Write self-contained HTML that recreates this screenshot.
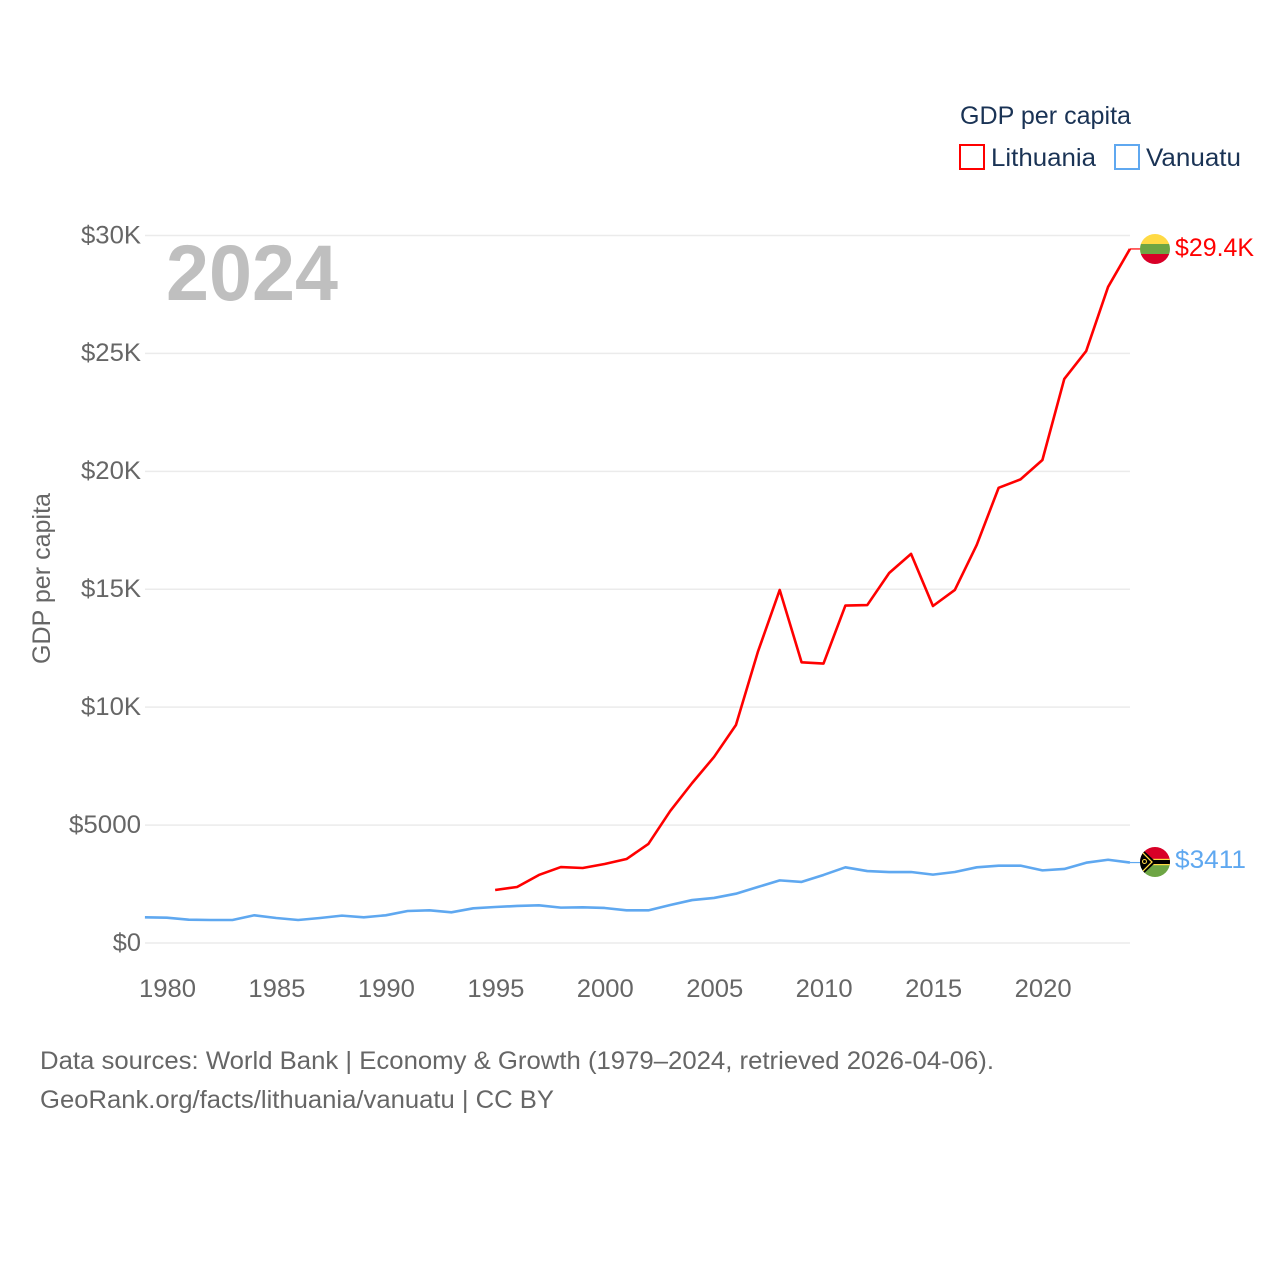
<!DOCTYPE html>
<html>
<head>
<meta charset="utf-8">
<title>GDP per capita: Lithuania and Vanuatu</title>
<style>
html,body{margin:0;padding:0;background:#fff;}
svg{display:block;font-family:"Liberation Sans",sans-serif;}
</style>
</head>
<body>
<svg id="chart" xmlns="http://www.w3.org/2000/svg" width="1280" height="1280" viewBox="0 0 1280 1280">
  <defs>
    <clipPath id="flag-clip-lt"><circle cx="1155" cy="249" r="15"/></clipPath>
    <clipPath id="flag-clip-vu"><circle cx="1155" cy="862" r="15"/></clipPath>
  </defs>
  <rect x="0" y="0" width="1280" height="1280" fill="#ffffff"/>
  <g id="grid"></g>
  <text x="166" y="300" font-size="79" font-weight="700" fill="#bfbfbf" textLength="172" lengthAdjust="spacingAndGlyphs">2024</text>
  <g id="y-ticks"></g>
  <g id="x-ticks"></g>
  <text transform="translate(50,664) rotate(-90)" font-size="25" fill="#666666" textLength="171" lengthAdjust="spacingAndGlyphs">GDP per capita</text>
  <g id="series"></g>

  <g clip-path="url(#flag-clip-lt)">
    <rect x="1140" y="234" width="30" height="10" fill="#ffda44"/>
    <rect x="1140" y="244" width="30" height="10.500" fill="#6da544"/>
    <rect x="1140" y="254" width="30" height="11" fill="#d80027"/>
  </g>
  <g clip-path="url(#flag-clip-vu)">
    <rect x="1140" y="847" width="30" height="15" fill="#d80027"/>
    <rect x="1140" y="862" width="30" height="15" fill="#6da544"/>
    <rect x="1150" y="859.500" width="20" height="5" fill="#000000"/>
    <rect x="1150" y="858.800" width="20" height="1.200" fill="#ffda44"/>
    <rect x="1150" y="864" width="20" height="1.200" fill="#ffda44"/>
    <polygon points="1140,847 1156,862 1140,877" fill="#000000"/>
    <polyline points="1141,851 1152,862 1141,873" fill="none" stroke="#ffda44" stroke-width="1.300"/>
    <circle cx="1144.500" cy="861.500" r="2" fill="none" stroke="#ffda44" stroke-width="1"/>
  </g>

  <g id="end-labels"></g>

  <g>
    <text x="960" y="124" font-size="25" fill="#1a3355" textLength="171" lengthAdjust="spacingAndGlyphs">GDP per capita</text>
    <g>
      <rect x="960" y="145" width="24" height="24" fill="none" stroke="#ff0000" stroke-width="2"/>
      <text x="991" y="166" font-size="25" fill="#1a3355" textLength="105" lengthAdjust="spacingAndGlyphs">Lithuania</text>
    </g>
    <g>
      <rect x="1115" y="145" width="24" height="24" fill="none" stroke="#5fa8f0" stroke-width="2"/>
      <text x="1146" y="166" font-size="25" fill="#1a3355" textLength="95" lengthAdjust="spacingAndGlyphs">Vanuatu</text>
    </g>
  </g>

  <text x="40" y="1069" font-size="25" fill="#666666" textLength="954" lengthAdjust="spacingAndGlyphs">Data sources: World Bank | Economy &amp; Growth (1979–2024, retrieved 2026-04-06).</text>
  <text x="40" y="1108" font-size="25" fill="#666666" textLength="514" lengthAdjust="spacingAndGlyphs">GeoRank.org/facts/lithuania/vanuatu | CC BY</text>
</svg>
<script>
const years = [1979,1980,1981,1982,1983,1984,1985,1986,1987,1988,1989,1990,1991,1992,1993,1994,1995,1996,1997,1998,1999,2000,2001,2002,2003,2004,2005,2006,2007,2008,2009,2010,2011,2012,2013,2014,2015,2016,2017,2018,2019,2020,2021,2022,2023,2024];
const lithuaniaValues = [null,null,null,null,null,null,null,null,null,null,null,null,null,null,null,null,2248,2375,2885,3220,3180,3350,3560,4200,5600,6785,7890,9245,12340,14970,11900,11850,14310,14330,15690,16500,14290,14970,16880,19300,19660,20480,23920,25100,27820,29430];
const vanuatuValues = [1088,1075,990,975,975,1175,1060,975,1060,1160,1090,1175,1357,1385,1300,1470,1527,1570,1600,1500,1512,1485,1385,1385,1610,1820,1910,2090,2375,2655,2590,2885,3210,3050,3010,3010,2900,3010,3210,3280,3280,3080,3140,3405,3530,3411];
const yTickValues = [0,5000,10000,15000,20000,25000,30000];
const yTickLabels = ["$0","$5000","$10K","$15K","$20K","$25K","$30K"];
const xTickYears = [1980,1985,1990,1995,2000,2005,2010,2015,2020];
const endLabels = ["$29.4K","$3411"];

const svgNS = "http://www.w3.org/2000/svg";
function xScale(year){ return 166.8 + (year - 1980) * 21.89; }
function yScale(value){ return 943 - value * 0.023583; }

const gridGroup = document.getElementById("grid");
const yTickGroup = document.getElementById("y-ticks");
yTickValues.forEach(function(v, i){
  const line = document.createElementNS(svgNS, "line");
  line.setAttribute("x1", 145);
  line.setAttribute("x2", 1130);
  line.setAttribute("y1", yScale(v));
  line.setAttribute("y2", yScale(v));
  line.setAttribute("stroke", "#ebebeb");
  line.setAttribute("stroke-width", 1.5);
  
  
  gridGroup.appendChild(line);
  const label = document.createElementNS(svgNS, "text");
  label.setAttribute("x", 141);
  label.setAttribute("y", yScale(v) + 7.800);
  label.setAttribute("text-anchor", "end");
  label.setAttribute("font-size", 25);
  label.setAttribute("fill", "#666666");
  label.setAttribute("textLength", yTickLabels[i].length * 14.6 + (yTickLabels[i].indexOf("K") >= 0 ? 1.6 : -1));
  label.setAttribute("lengthAdjust", "spacingAndGlyphs");
  label.textContent = yTickLabels[i];
  
  
  yTickGroup.appendChild(label);
});

const xTickGroup = document.getElementById("x-ticks");
xTickYears.forEach(function(y){
  const label = document.createElementNS(svgNS, "text");
  label.setAttribute("x", xScale(y) + 0.7);
  label.setAttribute("y", 997);
  label.setAttribute("text-anchor", "middle");
  label.setAttribute("font-size", 25);
  label.setAttribute("fill", "#666666");
  label.setAttribute("textLength", 57);
  label.setAttribute("lengthAdjust", "spacingAndGlyphs");
  label.textContent = String(y);
  
  
  xTickGroup.appendChild(label);
});

function buildPoints(values){
  const pts = [];
  values.forEach(function(v, i){
    if (v !== null) pts.push(xScale(years[i]).toFixed(2) + "," + yScale(v).toFixed(2));
  });
  return pts.join(" ");
}

const seriesGroup = document.getElementById("series");

const lineLithuania = document.createElementNS(svgNS, "polyline");
lineLithuania.setAttribute("points", buildPoints(lithuaniaValues));
lineLithuania.setAttribute("fill", "none");
lineLithuania.setAttribute("stroke", "#ff0000");
lineLithuania.setAttribute("stroke-width", 2.600);
lineLithuania.setAttribute("stroke-linejoin", "round");


seriesGroup.appendChild(lineLithuania);

const lineVanuatu = document.createElementNS(svgNS, "polyline");
lineVanuatu.setAttribute("points", buildPoints(vanuatuValues));
lineVanuatu.setAttribute("fill", "none");
lineVanuatu.setAttribute("stroke", "#5fa8f0");
lineVanuatu.setAttribute("stroke-width", 2.600);
lineVanuatu.setAttribute("stroke-linejoin", "round");


seriesGroup.appendChild(lineVanuatu);

const lastLithuania = lithuaniaValues[lithuaniaValues.length - 1];
const lastVanuatu = vanuatuValues[vanuatuValues.length - 1];

const connectorLithuania = document.createElementNS(svgNS, "line");
connectorLithuania.setAttribute("x1", xScale(2024));
connectorLithuania.setAttribute("x2", 1141);
connectorLithuania.setAttribute("y1", yScale(lastLithuania));
connectorLithuania.setAttribute("y2", yScale(lastLithuania));
connectorLithuania.setAttribute("stroke", "#ff0000");
connectorLithuania.setAttribute("stroke-width", 1.200);


seriesGroup.appendChild(connectorLithuania);

const connectorVanuatu = document.createElementNS(svgNS, "line");
connectorVanuatu.setAttribute("x1", xScale(2024));
connectorVanuatu.setAttribute("x2", 1141);
connectorVanuatu.setAttribute("y1", yScale(lastVanuatu));
connectorVanuatu.setAttribute("y2", yScale(lastVanuatu));
connectorVanuatu.setAttribute("stroke", "#5fa8f0");
connectorVanuatu.setAttribute("stroke-width", 1.200);


seriesGroup.appendChild(connectorVanuatu);

const endGroup = document.getElementById("end-labels");

const endLabelLithuania = document.createElementNS(svgNS, "text");
endLabelLithuania.setAttribute("x", 1175);
endLabelLithuania.setAttribute("y", 256);
endLabelLithuania.setAttribute("font-size", 25);
endLabelLithuania.setAttribute("fill", "#ff0000");
endLabelLithuania.setAttribute("textLength", 79);
endLabelLithuania.setAttribute("lengthAdjust", "spacingAndGlyphs");
endLabelLithuania.textContent = endLabels[0];


endGroup.appendChild(endLabelLithuania);

const endLabelVanuatu = document.createElementNS(svgNS, "text");
endLabelVanuatu.setAttribute("x", 1175);
endLabelVanuatu.setAttribute("y", 868);
endLabelVanuatu.setAttribute("font-size", 25);
endLabelVanuatu.setAttribute("fill", "#5fa8f0");
endLabelVanuatu.setAttribute("textLength", 71);
endLabelVanuatu.setAttribute("lengthAdjust", "spacingAndGlyphs");
endLabelVanuatu.textContent = endLabels[1];


endGroup.appendChild(endLabelVanuatu);
</script>
</body>
</html>
